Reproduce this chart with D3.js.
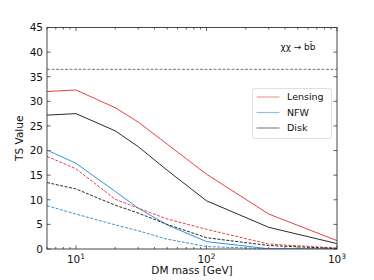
<!DOCTYPE html>
<html>
<head>
<meta charset="utf-8">
<script src="https://cdn.jsdelivr.net/npm/d3@7"></script>
<style>
  html, body { margin: 0; padding: 0; background: #fff; }
  svg { font-family: "DejaVu Sans", sans-serif; display: block; }
</style>
</head>
<body>
<div id="host"></div>
<script>
const masses = [6, 10, 20, 30, 50, 100, 300, 1000];
const lensingSolid = [32.0, 32.3, 28.7, 25.8, 21.3, 15.2, 7.1, 1.7];
const nfwSolid     = [20.1, 17.4, 11.7, 8.3, 4.9, 1.5, 0.05, 0.0];
const diskSolid    = [27.2, 27.5, 24.0, 20.8, 16.0, 9.8, 4.4, 1.1];
const lensingDash  = [18.8, 16.3, 10.1, 8.3, 6.1, 4.0, 1.0, 0.2];
const nfwDash      = [8.8, 7.1, 4.9, 3.7, 2.0, 0.5, 0.05, 0.0];
const diskDash     = [13.5, 12.2, 8.9, 7.3, 5.0, 2.3, 0.7, 0.1];
const threshold = 36.5;
const yTicks = [0, 5, 10, 15, 20, 25, 30, 35, 40, 45];
const xMajor = [10, 100, 1000];
const legendNames = ['Lensing', 'NFW', 'Disk'];

const colors = { Lensing: '#e8413f', NFW: '#3a8fd6', Disk: '#2b2b2b' };
const legendColors = { Lensing: '#f29c9a', NFW: '#8fbfe8', Disk: '#8a8a8a' };

const width = 374, height = 280;
const margin = { top: 27.5, right: 37, bottom: 31, left: 47 };
const innerW = width - margin.left - margin.right;
const innerH = height - margin.top - margin.bottom;

const svg = d3.select('#host').append('svg').attr('width', width).attr('height', height);
const g = svg.append('g').attr('transform', `translate(${margin.left},${margin.top})`);

const x = d3.scaleLog().domain([6, 1000]).range([0, innerW]);
const y = d3.scaleLinear().domain([0, 45]).range([innerH, 0]);

// minor log ticks
const minor = [];
for (const dec of [1, 10, 100]) for (let k = 2; k <= 9; k++) { const v = k * dec; if (v >= 6 && v < 1000) minor.push(v); }

const axisColor = '#333';
const tickG = g.append('g').attr('stroke', axisColor).attr('stroke-width', 0.8);
minor.forEach(v => {
  tickG.append('line').attr('x1', x(v)).attr('x2', x(v)).attr('y1', innerH).attr('y2', innerH - 2);
  tickG.append('line').attr('x1', x(v)).attr('x2', x(v)).attr('y1', 0).attr('y2', 2);
});
xMajor.forEach(v => {
  tickG.append('line').attr('x1', x(v)).attr('x2', x(v)).attr('y1', innerH).attr('y2', innerH - 3.5);
  tickG.append('line').attr('x1', x(v)).attr('x2', x(v)).attr('y1', 0).attr('y2', 3.5);
});
yTicks.forEach(v => {
  tickG.append('line').attr('x1', 0).attr('x2', 3.5).attr('y1', y(v)).attr('y2', y(v));
  tickG.append('line').attr('x1', innerW).attr('x2', innerW - 3.5).attr('y1', y(v)).attr('y2', y(v));
});

// tick labels
yTicks.forEach(v => {
  g.append('text').attr('x', -4).attr('y', y(v)).attr('dy', '0.36em')
    .attr('text-anchor', 'end').attr('font-size', 10.5).attr('fill', '#111').text(v);
});
xMajor.forEach(v => {
  const t = g.append('text').attr('x', x(v)).attr('y', innerH + 14)
    .attr('text-anchor', 'middle').attr('font-size', 10.5).attr('fill', '#111');
  t.append('tspan').text('10');
  t.append('tspan').attr('dy', -4).attr('font-size', 7.5).text(Math.round(Math.log10(v)));
});

// axis labels
svg.append('text').attr('x', margin.left + innerW / 2).attr('y', 274)
  .attr('text-anchor', 'middle').attr('font-size', 10.5).attr('fill', '#111').text('DM mass [GeV]');
svg.append('text').attr('transform', `translate(23,${margin.top + innerH / 2}) rotate(-90)`)
  .attr('text-anchor', 'middle').attr('font-size', 10.5).attr('fill', '#111').text('TS Value');

// threshold line
g.append('line').attr('x1', 0).attr('x2', innerW).attr('y1', y(threshold)).attr('y2', y(threshold))
  .attr('stroke', '#666').attr('stroke-width', 0.9).attr('stroke-dasharray', '3,1.5');

const line = d3.line().x((d, i) => x(masses[i])).y(d => y(d));
const clip = g.append('clipPath').attr('id', 'clip').append('rect').attr('width', innerW).attr('height', innerH);
const series = [
  { v: lensingSolid, c: colors.Lensing, dash: null },
  { v: nfwSolid, c: colors.NFW, dash: null },
  { v: diskSolid, c: colors.Disk, dash: null },
  { v: lensingDash, c: colors.Lensing, dash: '3,1.5' },
  { v: nfwDash, c: colors.NFW, dash: '3,1.5' },
  { v: diskDash, c: colors.Disk, dash: '3,1.5' }
];
const lg = g.append('g').attr('clip-path', 'url(#clip)');
series.forEach(s => {
  lg.append('path').datum(s.v).attr('fill', 'none').attr('stroke', s.c).attr('stroke-width', 1)
    .attr('stroke-dasharray', s.dash).attr('d', line);
});

// frame
g.append('rect').attr('width', innerW).attr('height', innerH).attr('fill', 'none')
  .attr('stroke', axisColor).attr('stroke-width', 0.9);

// annotation
svg.append('text').attr('x', 298).attr('y', 50).attr('text-anchor', 'middle')
  .attr('font-size', 9).attr('fill', '#111').text('χχ → bb̄');

// legend
const leg = svg.append('g').attr('transform', 'translate(252.5,88.5)');
leg.append('rect').attr('width', 79).attr('height', 50).attr('rx', 2.5)
  .attr('fill', '#fff').attr('fill-opacity', 0.8).attr('stroke', '#d8d8d8').attr('stroke-width', 0.8);
legendNames.forEach((n, i) => {
  const yy = 8.5 + i * 15.5;
  leg.append('line').attr('x1', 4).attr('x2', 27).attr('y1', yy).attr('y2', yy)
    .attr('stroke', legendColors[n]).attr('stroke-width', 1.2);
  leg.append('text').attr('x', 34.5).attr('y', yy).attr('dy', '0.36em')
    .attr('font-size', 9.5).attr('fill', '#111').text(n);
});
</script>
</body>
</html>
